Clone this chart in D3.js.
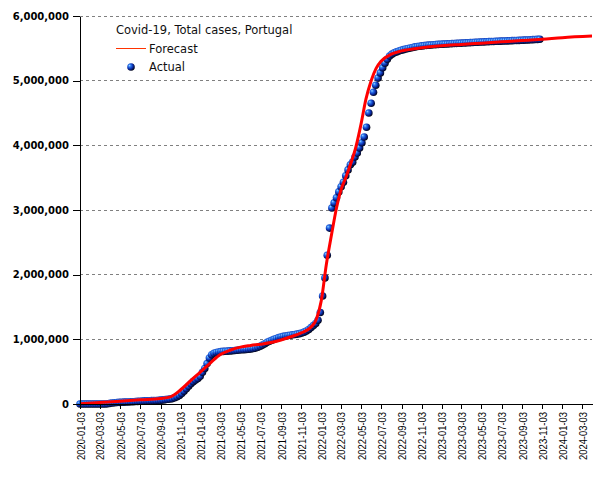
<!DOCTYPE html>
<html><head><meta charset="utf-8">
<script src="https://cdn.jsdelivr.net/npm/d3@7"></script>
<style>body{margin:0;background:#fff}svg{display:block}</style>
</head><body><svg id="c" width="605" height="480"></svg>
<script>
const chartTitle = "Covid-19, Total cases, Portugal";
const seriesNames = ["Forecast", "Actual"];
const tickLabels = ["2020-01-03","2020-03-03","2020-05-03","2020-07-03","2020-09-03","2020-11-03",
  "2021-01-03","2021-03-03","2021-05-03","2021-07-03","2021-09-03","2021-11-03",
  "2022-01-03","2022-03-03","2022-05-03","2022-07-03","2022-09-03","2022-11-03",
  "2023-01-03","2023-03-03","2023-05-03","2023-07-03","2023-09-03","2023-11-03",
  "2024-01-03","2024-03-03"];
const yTicks = [0, 1000000, 2000000, 3000000, 4000000, 5000000, 6000000];
const xDomain = ["2020-01-03", "2024-04-02"];

// weekly actual values, starting 2020-01-03
const actualStart = "2020-01-03";
const actualValues = [
  0,0,0,0,0,0,0,0,0,13,112,1020,4268,9886,15472,19022,22797,25190,26715,28583,30200,31946,
  33969,35910,38089,40415,43156,45679,47765,49692,51072,52351,53783,55211,57074,59457,63310,
  68025,72939,77284,83261,95902,112440,132616,161350,198011,236015,274011,312553,345966,370787,394573,
  427254,489293,549801,624469,711018,761906,784079,797525,804956,810094,813152,815500,818032,
  821104,824454,828000,831311,835563,838279,840838,843925,847006,852000,858000,866000,877000,
  892000,911000,932000,953000,970000,985000,1000000,1014000,1027000,1037000,1045000,1052000,
  1058000,1064000,1070000,1075000,1081000,1088000,1098000,1111000,1128000,1153000,1183000,
  1213000,1246000,1295000,1415000,
  1670000,1950000,2300000,2720000,3030000,3110000,3190000,3280000,3360000,3430000,3530000,
  3620000,3700000,3740000,3820000,3880000,3960000,4040000,4130000,4280000,4500000,4650000,
  4820000,4930000,5040000,5120000,5200000,5270000,5330000,5380000,5410000,5430000,5445000,
  5458000,5470000,5480000,5490000,5498000,5506000,5514000,5522000,5528000,5533000,5538000,
  5542000,5546000,5549000,5552000,5555000,5558000,5561000,5563000,
  5565000,5567000,5568500,5571000,5573000,5574500,5577000,5579000,5581000,5582500,5585000,
  5587000,5589000,5590500,5593000,5595000,5597000,5598500,5600500,5602000,5604000,5605000,
  5606500,5608500,5609500,5611000,5613000,5614000,5615500,5617500,5618500,5620000,5622000,
  5623000,5624500,5626500,5628000,5630000,5632000,5634000,5636000,5638000,5640000
];

const forecastDates = ["2020-01-03","2020-03-03","2020-05-03","2020-07-03","2020-09-03","2020-10-03",
  "2020-11-03","2020-12-03","2021-01-03","2021-02-03","2021-03-03","2021-04-03","2021-05-03",
  "2021-06-03","2021-07-03","2021-08-03","2021-09-03","2021-10-03","2021-11-03","2021-12-03",
  "2021-12-18","2022-01-03","2022-01-18","2022-02-03","2022-02-18","2022-03-03","2022-03-18",
  "2022-04-03","2022-04-18","2022-05-03","2022-05-18","2022-06-03","2022-06-18","2022-07-03",
  "2022-08-03","2022-09-03","2022-11-03","2023-01-03","2023-03-03","2023-05-03","2023-07-03",
  "2023-09-03","2023-11-03","2024-01-03","2024-04-02"];
const forecastValues = [5000,22000,42000,65000,85000,110000,
  220000,360000,500000,645000,765000,835000,880000,
  905000,925000,950000,990000,1040000,1100000,1190000,
  1300000,1600000,2150000,2620000,3030000,3300000,3500000,
  3730000,3980000,4320000,4710000,5000000,5190000,5300000,
  5410000,5460000,5510000,5540000,5560000,5580000,5600000,
  5620000,5640000,5665000,5690000];

const parse = d3.utcParse("%Y-%m-%d");
const svg = d3.select("#c");
const L = 80, R = 592, T = 16, B = 404;
const x = d3.scaleUtc().domain(xDomain.map(parse)).range([L, R]);
const y = d3.scaleLinear().domain([0, 6000000]).range([B, T]);

// gradient for spheres
const defs = svg.append("defs");
const g = defs.append("radialGradient").attr("id","sph").attr("cx","38%").attr("cy","38%").attr("r","65%").attr("fx","30%").attr("fy","30%");
g.append("stop").attr("offset","0%").attr("stop-color","#9fd4ff");
g.append("stop").attr("offset","25%").attr("stop-color","#2f7cf0");
g.append("stop").attr("offset","60%").attr("stop-color","#0b2fb0");
g.append("stop").attr("offset","100%").attr("stop-color","#000010");

// grid
svg.append("g").selectAll("line").data(yTicks.filter(d => d > 0)).join("line")
  .attr("x1", L).attr("x2", R).attr("y1", d => y(d)).attr("y2", d => y(d))
  .attr("stroke", "#808080").attr("stroke-dasharray", "3,3").attr("shape-rendering","crispEdges");

// actual points
const t0 = parse(actualStart);
const actual = actualValues.map((v, i) => ({date: d3.utcDay.offset(t0, 7 * i), value: v}));
svg.append("g").selectAll("circle").data(actual).join("circle")
  .attr("cx", d => x(d.date)).attr("cy", d => y(d.value)).attr("r", 3.8)
  .attr("fill", "url(#sph)");

// forecast line
const forecast = forecastDates.map((d, i) => ({date: parse(d), value: forecastValues[i]}));
svg.append("path").datum(forecast)
  .attr("fill", "none").attr("stroke", "#ff0000").attr("stroke-width", 3)
  .attr("d", d3.line().x(d => x(d.date)).y(d => y(d.value)).curve(d3.curveMonotoneX));

// axes
const yAxis = svg.append("g").attr("transform", `translate(${L},0)`)
  .call(d3.axisLeft(y).tickValues(yTicks).tickFormat(d3.format(",")).tickSize(7).tickSizeOuter(0).tickPadding(4));
yAxis.selectAll("text").attr("font-family", "DejaVu Sans").attr("font-weight", "bold").attr("font-size", 10).attr("fill", "#000");
yAxis.selectAll("line,path").attr("stroke", "#000").attr("shape-rendering","crispEdges");

const xAxis = svg.append("g").attr("transform", `translate(0,${B})`)
  .call(d3.axisBottom(x).tickValues(tickLabels.map(parse)).tickFormat(d3.utcFormat("%Y-%m-%d")).tickSize(5).tickSizeOuter(0));
xAxis.selectAll("text").attr("transform", "rotate(-90)").attr("x", -8).attr("y", 0).attr("dy", "0.36em")
  .style("text-anchor", "end").attr("font-family", "Liberation Sans").attr("font-size", 11.5)
  .attr("textLength", 48).attr("lengthAdjust", "spacingAndGlyphs").attr("fill", "#000");
xAxis.selectAll("line,path").attr("stroke", "#000").attr("shape-rendering","crispEdges");

// legend
const lg = svg.append("g").attr("font-family", "DejaVu Sans").attr("font-size", 11.5).attr("fill", "#111");
lg.append("text").attr("x", 116).attr("y", 34).text(chartTitle);
lg.append("line").attr("x1", 116).attr("x2", 146).attr("y1", 48.5).attr("y2", 48.5).attr("stroke", "#ff3300").attr("stroke-width", 1);
lg.append("text").attr("x", 149).attr("y", 52.5).text(seriesNames[0]);
lg.append("circle").attr("cx", 131).attr("cy", 67).attr("r", 3.8).attr("fill", "url(#sph)");
lg.append("text").attr("x", 149).attr("y", 71).text(seriesNames[1]);
</script></body></html>
